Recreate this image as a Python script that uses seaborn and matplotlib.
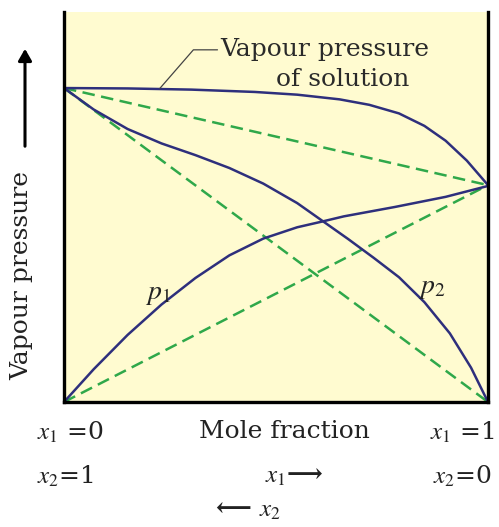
import matplotlib
matplotlib.use("Agg")
import matplotlib.pyplot as plt
import seaborn as sns

# ---- data (mole fraction x1 vs pressure in % of axis height) ----
x_p1 = [0.0, 0.07, 0.15, 0.23, 0.31, 0.39, 0.47, 0.55, 0.61, 0.66, 0.78, 0.90, 1.0]
y_p1 = [0.0, 8.4, 17.2, 25.0, 31.8, 37.6, 41.9, 44.8, 46.3, 47.6, 50.0, 52.6, 55.4]

x_p2 = [0.0, 0.07, 0.15, 0.23, 0.31, 0.39, 0.47, 0.55, 0.61, 0.67, 0.73, 0.79, 0.85, 0.91, 0.96, 1.0]
y_p2 = [80.5, 75.0, 70.0, 66.3, 63.3, 60.0, 56.0, 51.0, 46.4, 41.8, 37.0, 32.0, 25.6, 17.6, 8.8, 0.0]

x_tot = [0.0, 0.15, 0.30, 0.45, 0.55, 0.65, 0.72, 0.79, 0.85, 0.90, 0.95, 1.0]
y_tot = [80.5, 80.4, 80.1, 79.5, 78.8, 77.6, 76.2, 74.0, 70.8, 67.0, 61.9, 55.6]

x_ideal = [0.0, 1.0]
y_ideal_p1 = [0.0, 55.6]
y_ideal_p2 = [80.5, 0.0]
y_ideal_tot = [80.5, 55.6]

sns.set_style("white")
plt.rcParams["mathtext.fontset"] = "stix"
serif = ["DejaVu Serif"]
FS = 18

fig = plt.figure(figsize=(4.99, 5.27), dpi=100)
ax = fig.add_axes([64/499, 1 - 402/527, 424/499, 390/527])
ax.set_facecolor("#fffbd0")

blue = "#2e2f7c"
green = "#2fa84a"

for yy in (y_ideal_p1, y_ideal_p2, y_ideal_tot):
    sns.lineplot(x=x_ideal, y=yy, ax=ax, color=green, lw=1.8,
                 linestyle=(0, (5, 2.6)), estimator=None, sort=False)
for xx, yy in ((x_p1, y_p1), (x_p2, y_p2), (x_tot, y_tot)):
    sns.lineplot(x=xx, y=yy, ax=ax, color=blue, lw=1.8, estimator=None, sort=False)

ax.set_xlim(0, 1)
ax.set_ylim(0, 100)
ax.set_xticks([])
ax.set_yticks([])
ax.set_xlabel("")
ax.set_ylabel("")
for s in ("left", "right", "bottom"):
    ax.spines[s].set_color("black")
    ax.spines[s].set_linewidth(2.4)
ax.spines["top"].set_visible(False)

# annotation
ax.annotate("", xy=(0.226, 80.4), xytext=(0.362, 90.3),
            arrowprops=dict(arrowstyle="-", color="#444444", lw=0.9,
                            shrinkA=0, shrinkB=0,
                            connectionstyle="angle,angleA=0,angleB=49,rad=0"))
ax.text(0.368, 90.5, "Vapour pressure", family=serif, fontsize=FS,
        color="#2a2a2a", va="center", ha="left")
ax.text(0.658, 82.8, "of solution", family=serif, fontsize=FS,
        color="#2a2a2a", va="center", ha="center")

ax.text(0.222, 28.0, r"$p_1$", fontsize=20, ha="center", va="center", color="#222222")
ax.text(0.868, 29.5, r"$p_2$", fontsize=20, ha="center", va="center", color="#222222")

# y label with arrow
fig.text(22/499, 1 - 275/527, "Vapour pressure", family=serif, fontsize=FS,
         rotation=90, ha="center", va="center", color="#222222")
fig.add_artist(matplotlib.patches.FancyArrowPatch(
    (25/499, 1 - 149/527), (25/499, 1 - 46/527), transform=fig.transFigure,
    arrowstyle="-|>,head_length=7,head_width=4", color="black", lw=2.2))

# bottom labels
def ft(x, y, s, **kw):
    fig.text(x/499, 1 - y/527, s, family=serif, fontsize=FS, color="#222222",
             ha="center", va="center", **kw)

ft(70, 432, r"$x_1$ =0")
ft(284, 432, "Mole fraction")
ft(462, 432, r"$x_1$ =1")
ft(65, 476, r"$x_2$=1")
ft(294, 476, r"$x_1$⟶", fontweight="bold")
ft(462, 476, r"$x_2$=0")
ft(248, 510, r"⟵ $x_2$", fontweight="bold")

fig.savefig("out.png", dpi=100)
